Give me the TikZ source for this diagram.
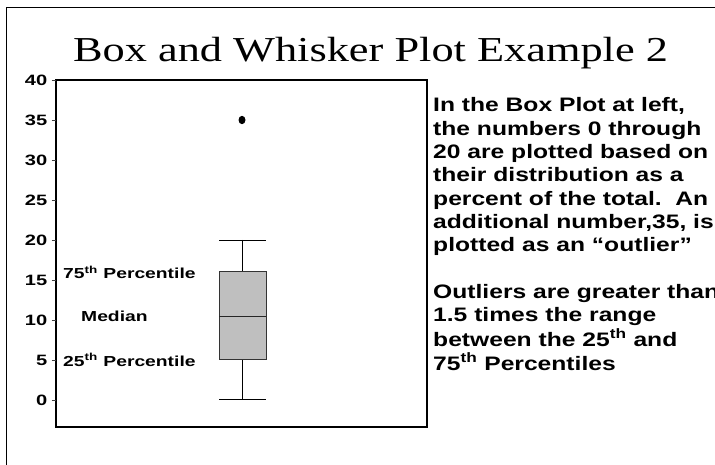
\documentclass[tikz,border=0pt]{standalone}
\usepackage{graphicx}
\usepackage{fontspec}
\setmainfont{Liberation Serif}
\newfontfamily\arialf{Liberation Sans}
\tikzset{
  lbl/.style={inner sep=0pt, font=\arialf\bfseries},
  frame/.style={line width=1.5pt, black},
  thin/.style={line width=0.9pt, black},
  tick/.style={line width=0.7pt, black!75},
}
\begin{document}
\begin{tikzpicture}[x=1pt,y=-1pt]
\useasboundingbox (0,0) rectangle (715,465);
\clip (0,0) rectangle (715,465);
% outer slide frame
\coordinate (fa) at (6,465);
\coordinate (fb) at (6,8);
\coordinate (fc) at (715,8);
\draw[line width=1pt] (fa) -- (fb) -- (fc);
% title
\node[inner sep=0pt, anchor=base, font=\fontsize{35}{40}\selectfont] (title) at (370.5,62)
  {\scalebox{1.267}[1]{Box and Whisker Plot Example 2}};
% plot frame
\coordinate (pa) at (56,80);
\coordinate (pb) at (427,427);
\draw[frame] (pa) rectangle (pb);
% ticks and tick labels
\foreach \v in {0,5,...,40}{
  \pgfmathsetmacro{\yy}{400-8*\v}
  \coordinate (ta\v) at (51.5,\yy);
  \coordinate (tb\v) at (56,\yy);
  \draw[tick] (ta\v) -- (tb\v);
  \node[lbl, anchor=base east, font=\arialf\bfseries\fontsize{15}{17}\selectfont] (t\v) at (47.5,\yy+5.4)
    {\scalebox{1.34}[1]{\v}};
}
% box plot
\coordinate (wtop) at (242,240);
\coordinate (wbot) at (242,399);
\coordinate (q3) at (242,271);
\coordinate (q1) at (242,359);
\coordinate (capta) at (219,240);
\coordinate (captb) at (266,240);
\coordinate (capba) at (219,399);
\coordinate (capbb) at (266,399);
\draw[thin] (wtop) -- (q3);
\draw[thin] (q1) -- (wbot);
\draw[thin] (capta) -- (captb);
\draw[thin] (capba) -- (capbb);
\coordinate (bxa) at (219,271);
\coordinate (bxb) at (266,359);
\draw[line width=1pt, draw=black!80, fill=black!25] (bxa) rectangle (bxb);
\coordinate (ma) at (219,316);
\coordinate (mb) at (266,316);
\draw[line width=1pt, black!85] (ma) -- (mb);
% outlier
\fill[black] (242,120) ellipse [x radius=3.5, y radius=4.2];
% left labels
\node[lbl, anchor=base west, font=\arialf\bfseries\fontsize{14.5}{16}\selectfont] (p75) at (63,279)
  {\scalebox{1.33}[1]{75\textsuperscript{th} Percentile}};
\node[lbl, anchor=base west, font=\arialf\bfseries\fontsize{14.5}{16}\selectfont] (med) at (81,321)
  {\scalebox{1.33}[1]{Median}};
\node[lbl, anchor=base west, font=\arialf\bfseries\fontsize{14.5}{16}\selectfont] (p25) at (63,366)
  {\scalebox{1.33}[1]{25\textsuperscript{th} Percentile}};
% right explanatory text
\node[lbl, anchor=base west, font=\arialf\bfseries\fontsize{19.5}{23.3}\selectfont] (expl) at (433,112)
  {\scalebox{1.263}[1]{\begin{tabular}[t]{@{}l@{}}
  In the Box Plot at left,\\
  the numbers 0 through\\
  20 are plotted based on\\
  their distribution as a\\
  percent of the total.\ \ An\\
  additional number,35, is\\
  plotted as an “outlier”\\
  \\
  Outliers are greater than\\
  1.5 times the range\\
  between the 25\textsuperscript{th} and\\
  75\textsuperscript{th} Percentiles
  \end{tabular}}};
\end{tikzpicture}
\end{document}
